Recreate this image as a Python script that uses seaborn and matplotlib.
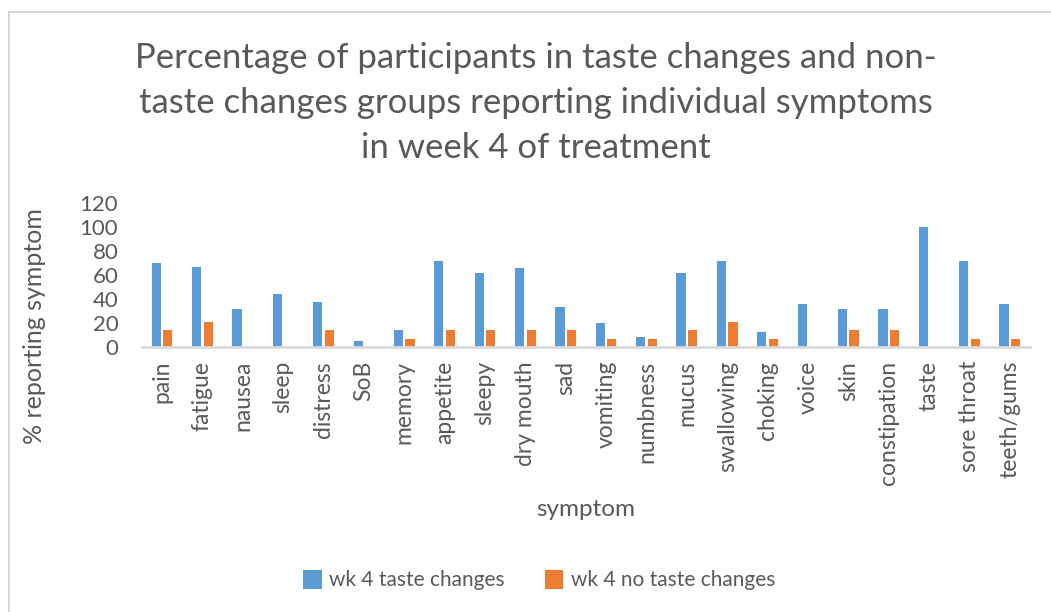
import matplotlib
matplotlib.use('Agg')
import matplotlib.pyplot as plt
import pandas as pd
import seaborn as sns
from matplotlib.patches import Rectangle

# Data
symptoms = ['pain', 'fatigue', 'nausea', 'sleep', 'distress', 'SoB', 'memory',
            'appetite', 'sleepy', 'dry mouth', 'sad', 'vomiting', 'numbness',
            'mucus', 'swallowing', 'choking', 'voice', 'skin', 'constipation',
            'taste', 'sore throat', 'teeth/gums']
taste_changes = [70, 66.7, 32, 44.4, 37.5, 5, 14.2, 71.7, 61.7, 65.6, 33.6,
                 20.3, 8.3, 61.7, 71.7, 12.2, 35.6, 31.4, 31.4, 100, 71.7, 35.6]
no_taste_changes = [14, 21, 0, 0, 14, 0, 7, 14, 14, 14, 14,
                    7, 7, 14, 21, 7, 0, 14, 14, 0, 7, 7]
series_names = ['wk 4 taste changes', 'wk 4 no taste changes']
y_ticks = [0, 20, 40, 60, 80, 100, 120]

df = pd.DataFrame({'symptom': symptoms,
                   series_names[0]: taste_changes,
                   series_names[1]: no_taste_changes})
df_long = df.melt(id_vars='symptom', var_name='group', value_name='pct')

sns.set_style('white')
plt.rcParams['font.family'] = ['Lato', 'DejaVu Sans']
text_col = '#595959'

fig = plt.figure(figsize=(10.51, 6.12), dpi=100)
ax = fig.add_axes([0.135, 0.433, 0.845, 0.235])

sns.barplot(data=df_long, x='symptom', y='pct', hue='group',
            palette=['#5B9BD5', '#ED7D31'], saturation=1,
            width=0.57, gap=0.2, linewidth=0, ax=ax)

ax.set_ylim(0, 120)
ax.set_yticks(y_ticks)
ax.set_xlim(-0.5, len(symptoms) - 0.5)
ax.tick_params(axis='y', length=0, labelsize=16, labelcolor=text_col, pad=17)
ax.tick_params(axis='x', length=0, labelsize=16.5, labelcolor=text_col,
               rotation=90, pad=10)
for s in ['top', 'right', 'left']:
    ax.spines[s].set_visible(False)
ax.spines['bottom'].set_color('#D9D9D9')
ax.spines['bottom'].set_linewidth(2)

ax.set_xlabel('')
ax.set_ylabel('')
fig.text(586 / 1051, 1 - 510 / 612, 'symptom', ha='center', va='center',
         fontsize=17.5, color=text_col)
fig.text(35 / 1051, 1 - 326 / 612, '% reporting symptom', ha='center',
         va='center', rotation=90, fontsize=18, color=text_col)

ax.legend_.remove()
handles, labels = ax.get_legend_handles_labels()
fig.legend(handles, labels, loc='center', bbox_to_anchor=(0.513, 0.052),
           ncol=2, frameon=False, fontsize=15, labelcolor=text_col,
           handlelength=0.9, handleheight=1.0, handletextpad=0.35,
           columnspacing=1.9)

fig.text(0.51, 0.832,
         'Percentage of participants in taste changes and non-\n'
         'taste changes groups reporting individual symptoms\n'
         'in week 4 of treatment',
         ha='center', va='center', fontsize=25, color=text_col,
         linespacing=1.5)

# light chart border
fig.add_artist(Rectangle((0.0086, -0.1), 1.2, 1.0796, fill=False,
                         edgecolor='#D9D9D9', linewidth=1.5,
                         transform=fig.transFigure, clip_on=False))

fig.savefig('out.png', dpi=100, facecolor='white')
